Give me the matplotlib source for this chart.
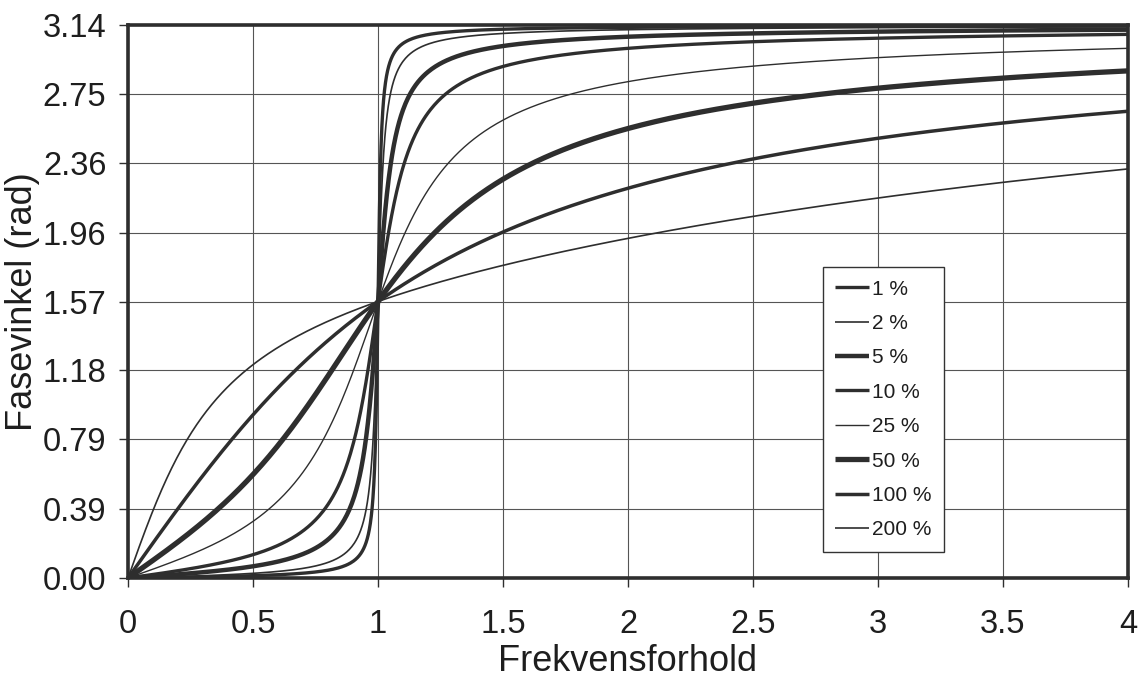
import numpy as np
import matplotlib
matplotlib.use('Agg')
import matplotlib.pyplot as plt

plt.rcParams['font.family'] = ['Liberation Sans', 'DejaVu Sans']

# damping ratios (as fraction of critical) and how each curve is drawn
damping = [0.01, 0.02, 0.05, 0.10, 0.25, 0.50, 1.00, 2.00]
labels = ['1 %', '2 %', '5 %', '10 %', '25 %', '50 %', '100 %', '200 %']
widths = [2.4, 1.2, 3.2, 2.4, 1.0, 3.8, 2.5, 1.2]

xticks = [0, 0.5, 1, 1.5, 2, 2.5, 3, 3.5, 4]
xticklabels = ['0', '0.5', '1', '1.5', '2', '2.5', '3', '3.5', '4']
yticks = [0.0, 0.39, 0.79, 1.18, 1.57, 1.96, 2.36, 2.75, 3.14]

# frequency ratio grid, dense near resonance
r = np.unique(np.concatenate([np.linspace(0, 4, 801),
                              np.linspace(0.9, 1.1, 801)]))

ink = '#2e2e2e'
txt = '#1e1e1e'
fig = plt.figure(figsize=(11.39, 6.83), dpi=100)
ax = fig.add_axes([0.1124, 0.1537, 0.8779, 0.8097])

for zeta, lab, lw in zip(damping, labels, widths):
    # phase lag of a damped single-degree-of-freedom oscillator
    phase = np.arctan2(2 * zeta * r, 1 - r ** 2)
    ax.plot(r, phase, color=ink, lw=lw, label=lab, solid_capstyle='butt')

ax.set_xlim(0, 4)
ax.set_ylim(0, np.pi)
ax.set_xticks(xticks)
ax.set_xticklabels(xticklabels)
ax.set_yticks([t if t < 3.1 else np.pi for t in yticks])
ax.set_yticklabels(['%.2f' % t for t in yticks])
ax.grid(True, color='#555555', lw=0.8)
ax.set_axisbelow(True)

for s in ax.spines.values():
    s.set_linewidth(2.6)
    s.set_color(ink)

ax.tick_params(direction='out', length=6.5, width=1, color=ink,
               labelsize=23.5, labelcolor=txt)
ax.tick_params(axis='x', pad=16)
ax.tick_params(axis='y', pad=9)
ax.set_xlabel('Frekvensforhold', fontsize=26, color=txt, labelpad=3)
ax.set_ylabel('Fasevinkel (rad)', fontsize=26, color=txt)
ax.yaxis.set_label_coords(-0.088, 0.5)

leg = ax.legend(loc='upper left', bbox_to_anchor=(0.695, 0.5624),
                fontsize=15, handlelength=1.6, handletextpad=0.15,
                labelspacing=0.74, borderpad=0.6, borderaxespad=0,
                fancybox=False, framealpha=1, edgecolor='#333333')
leg.get_frame().set_linewidth(1.0)
for t in leg.get_texts():
    t.set_color(txt)

fig.savefig('out.png', dpi=100)
